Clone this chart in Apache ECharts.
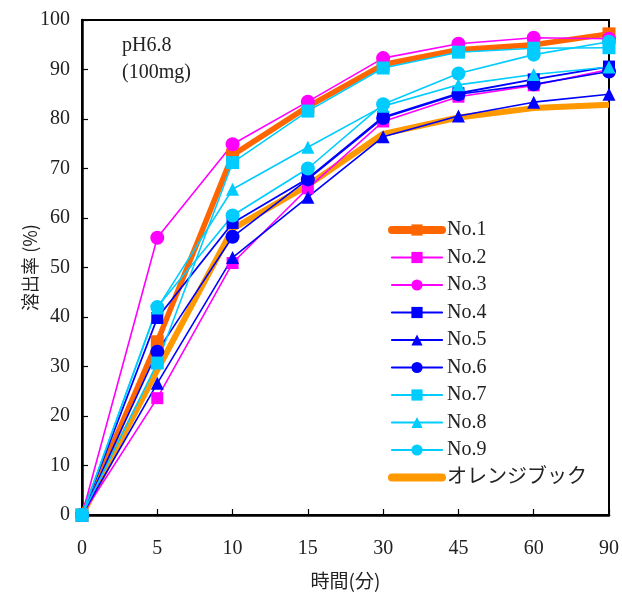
<!DOCTYPE html>
<html>
<head>
<meta charset="utf-8">
<script src="https://cdn.jsdelivr.net/npm/echarts@6/dist/echarts.min.js"></script>
<style>html,body{margin:0;padding:0;background:#fff}#c{width:622px;height:597px}</style>
</head>
<body>
<div id="c"></div>
<script>
const categories = ['0','5','10','15','30','45','60','90'];
const no1 = [0, 35.0, 72.7, 82.5, 91.0, 94.0, 95.0, 97.2];
const no2 = [0, 23.6, 50.9, 66.0, 79.5, 84.5, 86.8, 90.0];
const no3 = [0, 56.0, 74.9, 83.5, 92.3, 95.2, 96.4, 96.2];
const no4 = [0, 39.8, 59.0, 68.0, 80.4, 85.2, 88.0, 90.6];
const no5 = [0, 26.6, 52.0, 64.2, 76.4, 80.6, 83.4, 85.0];
const no6 = [0, 33.0, 56.2, 67.8, 80.2, 85.0, 87.0, 89.6];
const no7 = [0, 30.7, 71.2, 81.6, 90.3, 93.5, 94.3, 94.4];
const no8 = [0, 41.8, 65.8, 74.3, 82.6, 86.9, 89.0, 90.5];
const no9 = [0, 42.0, 60.5, 70.0, 83.0, 89.2, 93.0, 95.6];
const orangeBook = [0, 29.3, 57.8, 66.6, 77.0, 80.3, 82.2, 82.9];
const seriesNames = ['No.1','No.2','No.3','No.4','No.5','No.6','No.7','No.8','No.9','オレンジブック'];

const MAG = '#FF00FF', BLUE = '#0000FF', CYAN = '#00CCFF';
const styles = [
  ['#FF6600', 'rect', 13, 5.5, 3],
  [MAG, 'rect', 12, 1.6, 3],
  [MAG, 'circle', 14, 1.6, 3],
  [BLUE, 'rect', 12, 1.8, 3],
  [BLUE, 'triangle', 13, 1.6, 3],
  [BLUE, 'circle', 14, 1.6, 3],
  [CYAN, 'rect', 13, 1.6, 3],
  [CYAN, 'triangle', 13, 1.6, 3],
  [CYAN, 'circle', 14, 1.6, 3],
  ['#FF9900', 'none', 0, 6, 2]
];
const allData = [no1, no2, no3, no4, no5, no6, no7, no8, no9, orangeBook];
const series = allData.map((data, i) => {
  const [color, symbol, size, width, z] = styles[i];
  return {
    name: seriesNames[i], type: 'line', data, z,
    symbol, symbolSize: size, showSymbol: symbol !== 'none',
    lineStyle: { color, width },
    itemStyle: { color },
    emphasis: { disabled: true },
    animation: false
  };
});
const legendData = seriesNames.map((name, i) => {
  const [color, symbol, size, width] = styles[i];
  const item = { name, lineStyle: { color, width: width > 3 ? 8 : 2.2, cap: 'round' } };
  if (symbol === 'none') item.itemStyle = { opacity: 0 };
  return item;
});

const serif = '"Liberation Serif", "Noto Sans CJK JP", serif';
const chart = echarts.init(document.getElementById('c'), null, { renderer: 'canvas' });
chart.setOption({
  backgroundColor: '#fff',
  animation: false,
  grid: { left: 82, right: 12, top: 20, bottom: 82, show: true, borderColor: '#000', borderWidth: 2, backgroundColor: 'transparent' },
  legend: {
    orient: 'vertical', left: 383, top: 215,
    itemWidth: 50, itemHeight: 14, itemGap: 7.5,
    data: legendData,
    textStyle: { fontFamily: serif, fontSize: 20, color: '#222' },
    selectedMode: false
  },
  graphic: [
    { type: 'text', left: 122, top: 36, style: { text: 'pH6.8', font: '20px ' + serif, fill: '#222' } },
    { type: 'text', left: 122, top: 63, style: { text: '(100mg)', font: '20px ' + serif, fill: '#222' } }
  ],
  xAxis: {
    type: 'category', data: categories, boundaryGap: false,
    name: '時間(分)', nameLocation: 'middle', nameGap: 56,
    nameTextStyle: { fontFamily: '"Noto Sans CJK JP"', fontSize: 19, color: '#222' },
    axisLine: { lineStyle: { color: '#000', width: 2.5 } },
    axisTick: { inside: true, length: 6, lineStyle: { color: '#000', width: 1.2 } },
    axisLabel: { fontFamily: serif, fontSize: 20, color: '#222', margin: 24 },
    splitLine: { show: false }
  },
  yAxis: {
    type: 'value', min: 0, max: 100, interval: 10,
    name: '溶出率 (%)', nameLocation: 'middle', nameGap: 43, nameRotate: 90, nameMoveOverlap: false,
    nameTextStyle: { fontFamily: '"Noto Sans CJK JP"', fontSize: 18, color: '#222' },
    axisLine: { show: true, lineStyle: { color: '#000', width: 2.5 } },
    axisTick: { show: true, inside: true, length: 6, lineStyle: { color: '#000', width: 1.2 } },
    axisLabel: { fontFamily: serif, fontSize: 20, color: '#222', margin: 12 },
    splitLine: { show: false }
  },
  series
});
</script>
</body>
</html>
